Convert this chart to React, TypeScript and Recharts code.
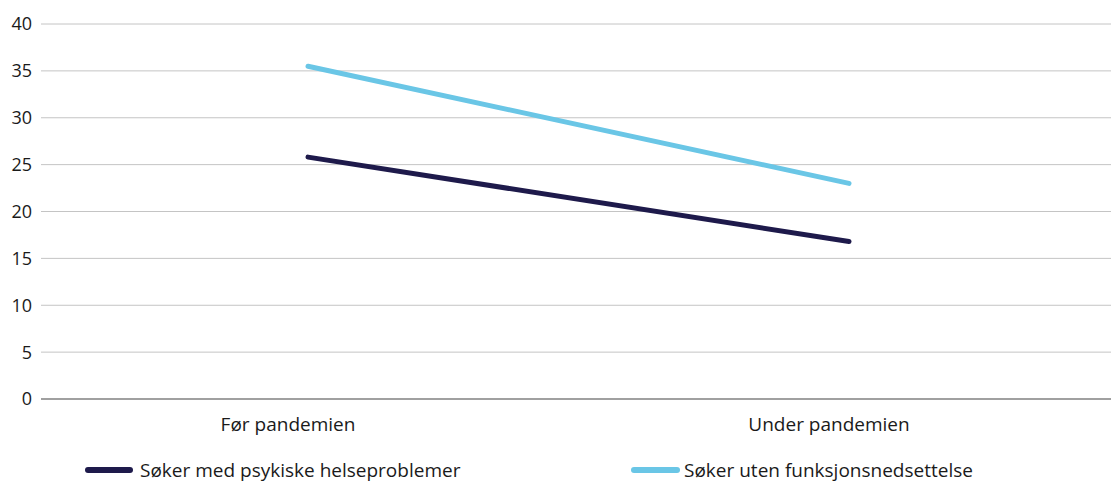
import React from 'react';
import { LineChart, Line, XAxis, YAxis, CartesianGrid, Legend } from 'recharts';

const categories = ['Før pandemien', 'Under pandemien'];
const psykiske = [25.8, 16.8];
const utenFunksjon = [35.5, 23.0];
const yTicks = [0, 5, 10, 15, 20, 25, 30, 35, 40];
const seriesNames = ['Søker med psykiske helseproblemer', 'Søker uten funksjonsnedsettelse'];

const DARK = '#1e1a4b';
const LIGHT = '#6ac6e6';
const FONT = '"Open Sans", sans-serif';

const data = categories.map((c, i) => ({ name: c, a: psykiske[i], b: utenFunksjon[i] }));

const XTick = (props: any) => {
  const { x, y, payload } = props;
  return (
    <text x={x - 20} y={y + 24} textAnchor="middle" fill="#1a1a1a" fontSize={19} fontFamily={FONT}>
      {payload.value}
    </text>
  );
};

const LegendContent = () => (
  <div style={{ position: 'relative', height: 24, fontFamily: FONT, fontSize: 19, lineHeight: '24px', color: '#1a1a1a' }}>
    {[{ left: 85, w: 48, c: DARK, t: seriesNames[0] }, { left: 631, w: 49, c: LIGHT, t: seriesNames[1] }].map((it, i) => (
      <div key={i} style={{ position: 'absolute', left: it.left, top: 0, height: 24, display: 'flex', alignItems: 'center', whiteSpace: 'nowrap' }}>
        <div style={{ width: it.w, height: 6, borderRadius: 3, background: it.c, marginRight: i === 0 ? 7 : 4 }} />
        <span>{it.t}</span>
      </div>
    ))}
  </div>
);

export default function App() {
  return (
    <div style={{ position: 'absolute', left: 0, top: 0, width: 1111, height: 481, background: '#fff' }}>
      <LineChart width={1111} height={481} data={data} margin={{ top: 24, right: 0, bottom: 28, left: 0 }}>
        <CartesianGrid vertical={false} stroke="#c4c4c4" strokeWidth={1} />
        <XAxis
          dataKey="name"
          height={30}
          padding={{ left: 267, right: 262 }}
          tick={<XTick />}
          tickLine={false}
          axisLine={{ stroke: '#8a8a8a', strokeWidth: 1.5 }}
        />
        <YAxis
          width={41}
          domain={[0, 40]}
          ticks={yTicks}
          interval={0}
          tickLine={false}
          axisLine={false}
          tickSize={0}
          tickMargin={9}
          tick={{ fill: '#1a1a1a', fontSize: 18, fontFamily: FONT }}
        />
        <Legend verticalAlign="bottom" height={24} content={<LegendContent />} wrapperStyle={{ left: 0, top: 458, width: 1111, height: 24 }} />
        <Line dataKey="a" name={seriesNames[0]} stroke={DARK} strokeWidth={5} strokeLinecap="round" dot={false} isAnimationActive={false} />
        <Line dataKey="b" name={seriesNames[1]} stroke={LIGHT} strokeWidth={5} strokeLinecap="round" dot={false} isAnimationActive={false} />
      </LineChart>
    </div>
  );
}
